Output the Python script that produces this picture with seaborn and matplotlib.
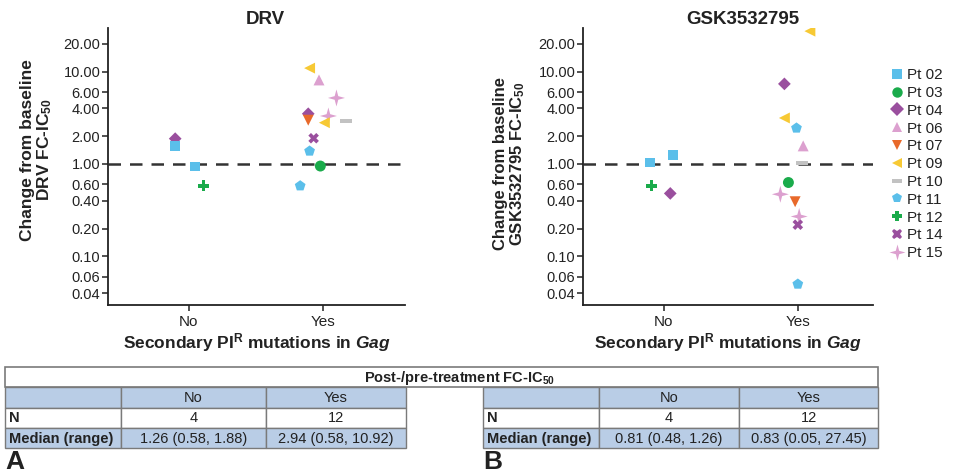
import numpy as np
import pandas as pd
import matplotlib
matplotlib.use("Agg")
import matplotlib.pyplot as plt
from matplotlib.path import Path
from matplotlib.patches import Rectangle
import seaborn as sns

# ---------------- data ----------------
patients_order = ["Pt 02", "Pt 03", "Pt 04", "Pt 06", "Pt 07", "Pt 09",
                  "Pt 10", "Pt 11", "Pt 12", "Pt 14", "Pt 15"]
categories = ["No", "Yes"]

drv_patient = ["Pt 04", "Pt 02", "Pt 02", "Pt 12",
               "Pt 09", "Pt 06", "Pt 15", "Pt 04", "Pt 07", "Pt 15",
               "Pt 09", "Pt 10", "Pt 14", "Pt 11", "Pt 03", "Pt 11"]
drv_group = ["No"] * 4 + ["Yes"] * 12
drv_value = [1.88, 1.58, 0.94, 0.58,
             10.92, 8.13, 5.19, 3.50, 2.98, 3.31,
             2.80, 2.90, 1.90, 1.38, 0.95, 0.58]
drv_jitter = [-0.10, -0.10, 0.05, 0.11,
              -0.10, -0.03, 0.10, -0.11, -0.11, 0.04,
              0.01, 0.17, -0.07, -0.10, -0.02, -0.17]

gsk_patient = ["Pt 02", "Pt 02", "Pt 12", "Pt 04",
               "Pt 09", "Pt 04", "Pt 09", "Pt 11", "Pt 06", "Pt 10",
               "Pt 03", "Pt 15", "Pt 07", "Pt 15", "Pt 14", "Pt 11"]
gsk_group = ["No"] * 4 + ["Yes"] * 12
gsk_value = [1.04, 1.26, 0.58, 0.48,
             27.45, 7.37, 3.15, 2.45, 1.57, 1.03,
             0.63, 0.47, 0.39, 0.27, 0.22, 0.05]
gsk_jitter = [-0.10, 0.07, -0.09, 0.05,
              0.09, -0.10, -0.10, -0.01, 0.04, 0.03,
              -0.07, -0.13, -0.02, 0.01, 0.00, 0.00]

ytick_values = [0.04, 0.06, 0.10, 0.20, 0.40, 0.60, 1.00, 2.00, 4.00, 6.00, 10.00, 20.00]

table_title = "Post-/pre-treatment FC-IC$_{\\mathbf{50}}$"
table_cols = ["No", "Yes"]
table_rows = ["N", "Median (range)"]
drv_table = [["4", "12"], ["1.26 (0.58, 1.88)", "2.94 (0.58, 10.92)"]]
gsk_table = [["4", "12"], ["0.81 (0.48, 1.26)", "0.83 (0.05, 27.45)"]]

# ---------------- style ----------------
sns.set_style("ticks")
plt.rcParams["font.family"] = ["Liberation Sans", "DejaVu Sans"]
plt.rcParams["mathtext.fontset"] = "custom"
plt.rcParams["mathtext.rm"] = "Liberation Sans"
plt.rcParams["mathtext.bf"] = "Liberation Sans:bold"
plt.rcParams["mathtext.it"] = "Liberation Sans:italic"
try:
    plt.rcParams["mathtext.bfit"] = "Liberation Sans:bold:italic"
except KeyError:
    pass
TXT = "#222222"
plt.rcParams["text.color"] = TXT
plt.rcParams["axes.labelcolor"] = TXT
plt.rcParams["xtick.color"] = "#222222"
plt.rcParams["ytick.color"] = "#222222"

palette = {"Pt 02": "#5bbfea", "Pt 03": "#1aab4b", "Pt 04": "#9a4f9e",
           "Pt 06": "#dca0cf", "Pt 07": "#e8692a", "Pt 09": "#f7c934",
           "Pt 10": "#c2c2c2", "Pt 11": "#5bbfea", "Pt 12": "#1aab4b",
           "Pt 14": "#9a4f9e", "Pt 15": "#dca0cf"}

dash = Path([(-1, -0.38), (1, -0.38), (1, 0.38), (-1, 0.38), (-1, -0.38)],
            [Path.MOVETO, Path.LINETO, Path.LINETO, Path.LINETO, Path.CLOSEPOLY])
ang = np.deg2rad(np.arange(0, 360, 45) + 90)
rad = np.array([1, 0.3] * 4)
sv = np.column_stack([rad * np.cos(ang), rad * np.sin(ang)])
sv = np.vstack([sv, sv[:1]])
sparkle = Path(sv, [Path.MOVETO] + [Path.LINETO] * 7 + [Path.CLOSEPOLY])

markers = {"Pt 02": "s", "Pt 03": "o", "Pt 04": "D", "Pt 06": "^",
           "Pt 07": "v", "Pt 09": "<", "Pt 10": dash, "Pt 11": "p",
           "Pt 12": "P", "Pt 14": "X", "Pt 15": sparkle}
marker_sizes = {"Pt 02": 50, "Pt 03": 62, "Pt 04": 42, "Pt 06": 62,
                "Pt 07": 62, "Pt 09": 62, "Pt 10": 70, "Pt 11": 66,
                "Pt 12": 62, "Pt 14": 58, "Pt 15": 150}

fig = plt.figure(figsize=(9.57, 4.74), dpi=100)
W, H = 957, 474


def ax_rect(x0, y0, x1, y1):
    return [x0 / W, 1 - y1 / H, (x1 - x0) / W, (y1 - y0) / H]


axL = fig.add_axes(ax_rect(108, 28, 405, 305))
axR = fig.add_axes(ax_rect(583, 28, 873, 305))


def panel(ax, pats, grps, vals, jit, title, ylabel, xlim, title_x, show_legend, ylsize):
    df = pd.DataFrame({"patient": pats, "group": grps, "value": vals, "jit": jit})
    df["x"] = df["group"].map({c: i for i, c in enumerate(categories)}) + df["jit"]
    sns.scatterplot(data=df, x="x", y="value", hue="patient", style="patient",
                    size="patient", sizes=marker_sizes,
                    hue_order=patients_order, style_order=patients_order,
                    size_order=patients_order,
                    palette=palette, markers=markers, linewidth=0,
                    ax=ax, legend=show_legend, zorder=3)
    ax.set_yscale("log")
    ax.set_ylim(0.0297, 29.7)
    ax.set_xlim(*xlim)
    ax.axhline(1.0, color="#333333", lw=1.8, ls=(0, (5, 3.6)), zorder=1)
    ax.set_yticks(ytick_values)
    ax.set_yticklabels([f"{v:.2f}" for v in ytick_values])
    ax.yaxis.set_minor_locator(matplotlib.ticker.NullLocator())
    ax.set_xticks(range(len(categories)))
    ax.set_xticklabels(categories)
    ax.tick_params(axis="y", labelsize=10.5, length=4, width=1.1, pad=1.5)
    ax.tick_params(axis="x", labelsize=11, length=4, width=1.1, pad=3)
    for s in ["left", "bottom"]:
        ax.spines[s].set_linewidth(1.3)
        ax.spines[s].set_color("#222222")
    sns.despine(ax=ax)
    ax.set_title(title, fontsize=13.5, fontweight="bold", x=title_x, pad=3)
    ax.set_xlabel(r"Secondary PI$^{\mathbf{R}}$ mutations in $\mathbfit{Gag}$",
                  fontsize=12.5, fontweight="bold", labelpad=2)
    ax.set_ylabel(ylabel, fontsize=ylsize, fontweight="bold", linespacing=1.0)


panel(axL, drv_patient, drv_group, drv_value, drv_jitter, "DRV",
      "Change from baseline\nDRV FC-IC$_{\\mathbf{50}}$", (-0.60, 1.61), 0.53, False, 12.5)
panel(axR, gsk_patient, gsk_group, gsk_value, gsk_jitter, "GSK3532795",
      "Change from baseline\nGSK3532795 FC-IC$_{\\mathbf{50}}$", (-0.60, 1.56), 0.55, True, 12)
axL.yaxis.set_label_coords(-0.182, 0.56)
axR.yaxis.set_label_coords(-0.193, 0.51)

handles, labels = axR.get_legend_handles_labels()
for h, lab in zip(handles, labels):
    try:
        h.set_markersize(11.5 if lab == "Pt 15" else 7.5)
    except Exception:
        pass
leg = axR.legend(handles, labels, loc="upper left", bbox_to_anchor=(883 / W, 1 - 62 / H),
                 bbox_transform=fig.transFigure, frameon=False, fontsize=11,
                 handletextpad=0.2, labelspacing=0.25, borderaxespad=0,
                 handlelength=1.0)

# ---------------- tables ----------------
ov = fig.add_axes([0, 0, 1, 1])
ov.set_xlim(0, W)
ov.set_ylim(H, 0)
ov.axis("off")
BLUE = "#b9cde6"
EDGE = "#7a7a7a"


def cell(x0, y0, x1, y1, fc):
    ov.add_patch(Rectangle((x0, y0), x1 - x0, y1 - y0, facecolor=fc,
                           edgecolor=EDGE, lw=1.0))


ov.add_patch(Rectangle((5, 367), 873, 20, facecolor="white", edgecolor=EDGE, lw=1.2))
ov.text(460, 378, table_title, ha="center", va="center", fontsize=10.5,
        fontweight="bold")

rows_y = [387, 408, 428, 448]


def draw_table(x_edges, values, letter):
    for r in range(3):
        y0, y1 = rows_y[r], rows_y[r + 1]
        fc = BLUE if r in (0, 2) else "white"
        for c in range(3):
            cell(x_edges[c], y0, x_edges[c + 1], y1, fc)
    ym = [(rows_y[i] + rows_y[i + 1]) / 2 for i in range(3)]
    for c, name in enumerate(table_cols):
        ov.text((x_edges[c + 1] + x_edges[c + 2]) / 2, ym[0] + 0.5, name,
                ha="center", va="center", fontsize=10.5)
    for r, name in enumerate(table_rows):
        ov.text(x_edges[0] + 4, ym[r + 1] + 0.5, name, ha="left", va="center",
                fontsize=10.5, fontweight="bold")
        for c in range(2):
            ov.text((x_edges[c + 1] + x_edges[c + 2]) / 2, ym[r + 1] + 0.5,
                    values[r][c], ha="center", va="center", fontsize=10.5)
    ov.text(x_edges[0], 462, letter, ha="left", va="center", fontsize=19,
            fontweight="bold")


draw_table([5, 121, 266, 406], drv_table, "A")
draw_table([483, 599, 739, 878], gsk_table, "B")

fig.savefig("out.png", dpi=100)
